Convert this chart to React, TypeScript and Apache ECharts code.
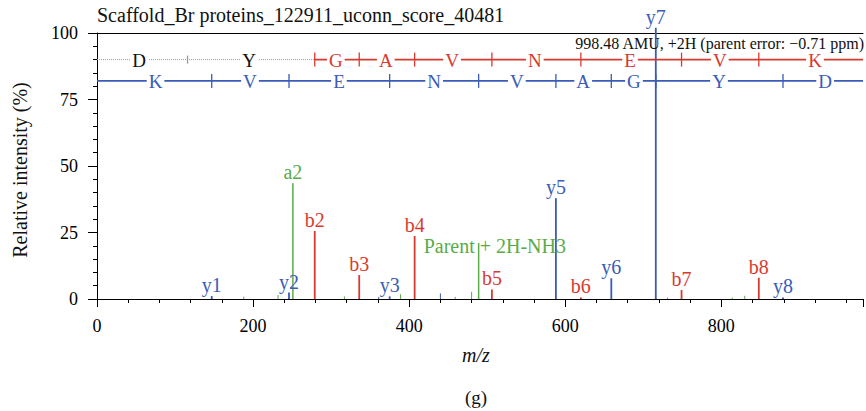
import React, { useEffect, useRef } from "react";
import * as echarts from "echarts";

const TITLE = "Scaffold_Br proteins_122911_uconn_score_40481";
const PARENT_NOTE = "998.48 AMU, +2H (parent error: \u22120.71 ppm)";

// fragment peaks [m/z, relative intensity]
const bIons: number[][] = [[279, 25.6], [336, 9], [407, 23.7], [506, 3.6], [620, 0.6], [749, 3.4], [848, 8]];
const bLabels = ["b2", "b3", "b4", "b5", "b6", "b7", "b8"];
const yIons: number[][] = [[147, 1.1], [246, 2.4], [375, 1], [588, 37.9], [659, 7.8], [716, 102], [879, 0.6]];
const yLabels = ["y1", "y2", "y3", "y5", "y6", "y7", "y8"];
const otherIons: number[][] = [[251, 43.5], [489, 21]];
const otherLabels = ["a2", "Parent + 2H-NH3"];
const minorGreen: number[][] = [[188, 0.9], [232, 1.5], [317, 1], [389, 1.8], [459, 0.8], [480, 2.7], [731, 0.5], [814, 0.5], [830, 1.2]];
const minorBlue: number[][] = [[361, 0.8], [440, 2.1]];

// sequence ladders
const bLevel = 90;
const yLevel = 82;
const grayTicks = [116];
const bTicks = [279, 336, 407, 506, 620, 749, 848];
const yTicks = [147, 246, 375, 489, 588, 659, 716, 879];
const bLetterPos = [54, 195, 306, 370, 455, 561, 683, 798, 920];
const bLetters = ["D", "Y", "G", "A", "V", "N", "E", "V", "K"];
const yLetterPos = [75, 196, 310, 432, 538, 623, 688, 797, 933];
const yLetters = ["K", "V", "E", "N", "V", "A", "G", "Y", "D"];

const X_MAX = 981.5;
const RED = "#d93a2f";
const BLUE = "#3a5cb8";
const GREEN = "#5aab48";
const FONT = "Liberation Serif, Times New Roman, serif";

function peakSeries(data: number[][], labels: string[] | null, color: string, width: number) {
  return {
    type: "custom",
    silent: true,
    clip: false,
    data,
    renderItem: (params: any, api: any) => {
      const x = api.value(0);
      const y = api.value(1);
      const top = api.coord([x, y]);
      const base = api.coord([x, 0]);
      const children: any[] = [
        { type: "line", shape: { x1: top[0], y1: base[1], x2: top[0], y2: top[1] }, style: { stroke: color, lineWidth: width } },
      ];
      const label = labels ? labels[params.dataIndex] : null;
      if (label) {
        const isParent = label.startsWith("Parent");
        children.push({
          type: "text",
          x: isParent ? top[0] - 55 : top[0],
          y: isParent ? top[1] + 3 : top[1] - 1,
          z2: 10,
          style: {
            text: label,
            fill: color,
            fontFamily: FONT,
            fontSize: 20,
            align: isParent ? "left" : "center",
            verticalAlign: isParent ? "middle" : "bottom",
          },
        });
      }
      return { type: "group", children };
    },
  };
}

function tickSeries(xs: number[], level: number, color: string, half: number) {
  return {
    type: "custom",
    silent: true,
    clip: false,
    data: xs.map((x) => [x, level]),
    renderItem: (_p: any, api: any) => {
      const c = api.coord([api.value(0), api.value(1)]);
      return { type: "line", shape: { x1: c[0], y1: c[1] - half, x2: c[0], y2: c[1] + half }, style: { stroke: color, lineWidth: 1.3 } };
    },
  };
}

function letterSeries(xs: number[], letters: string[], level: number, colorFn: (i: number) => string) {
  return {
    type: "custom",
    silent: true,
    clip: false,
    z: 5,
    data: xs.map((x) => [x, level]),
    renderItem: (p: any, api: any) => {
      const c = api.coord([api.value(0), api.value(1)]);
      return {
        type: "text",
        x: c[0],
        y: c[1] + 1,
        style: {
          text: letters[p.dataIndex],
          fill: colorFn(p.dataIndex),
          fontFamily: FONT,
          fontSize: 19,
          align: "center",
          verticalAlign: "middle",
          backgroundColor: "#ffffff",
          padding: [0, 2],
        },
      };
    },
  };
}

export default function App() {
  const ref = useRef<HTMLDivElement>(null);
  useEffect(() => {
    if (!ref.current) return;
    const chart = echarts.init(ref.current, null, { renderer: "svg" });
    chart.setOption({
      animation: false,
      backgroundColor: "#ffffff",
      textStyle: { fontFamily: FONT },
      grid: { left: 97, top: 33, right: 0, bottom: 112 },
      xAxis: [
        {
          type: "value",
          min: 0,
          max: X_MAX,
          interval: 200,
          axisLine: { show: true, lineStyle: { color: "#000", width: 1 } },
          axisTick: { show: true, length: 8, lineStyle: { color: "#000" } },
          minorTick: { show: true, splitNumber: 5, length: 4, lineStyle: { color: "#000" } },
          splitLine: { show: false },
          axisLabel: {
            color: "#000",
            fontFamily: FONT,
            fontSize: 18,
            margin: 18,
            formatter: (v: number) => (v > 900 ? "" : String(v)),
          },
        },
        {
          type: "value",
          position: "top",
          min: 0,
          max: X_MAX,
          axisLine: { show: true, lineStyle: { color: "#000", width: 1 } },
          axisTick: { show: false },
          axisLabel: { show: false },
          splitLine: { show: false },
        },
      ],
      yAxis: {
        type: "value",
        min: 0,
        max: 100,
        interval: 25,
        axisLine: { show: true, lineStyle: { color: "#000", width: 1 } },
        axisTick: { show: true, length: 9, lineStyle: { color: "#000" } },
        minorTick: { show: true, splitNumber: 5, length: 4, lineStyle: { color: "#000" } },
        splitLine: { show: false },
        axisLabel: { color: "#000", fontFamily: FONT, fontSize: 18, margin: 19 },
      },
      series: [
        {
          type: "line",
          silent: true,
          symbol: "none",
          data: [[0, bLevel], [bTicks[0], bLevel]],
          lineStyle: { color: "#9a9a9a", width: 1, type: "dotted" },
        },
        {
          type: "line",
          silent: true,
          symbol: "none",
          data: [[bTicks[0], bLevel], [X_MAX, bLevel]],
          lineStyle: { color: RED, width: 1.8 },
        },
        {
          type: "line",
          silent: true,
          symbol: "none",
          data: [[0, yLevel], [X_MAX, yLevel]],
          lineStyle: { color: BLUE, width: 1.8 },
        },
        tickSeries(grayTicks, bLevel, "#9a9a9a", 4),
        tickSeries(bTicks, bLevel, RED, 7),
        tickSeries(yTicks, yLevel, BLUE, 7),
        letterSeries(bLetterPos, bLetters, bLevel, (i) => (i < 2 ? "#111" : RED)),
        letterSeries(yLetterPos, yLetters, yLevel, () => BLUE),
        peakSeries(minorGreen, null, GREEN, 1),
        peakSeries(minorBlue, null, BLUE, 1),
        peakSeries(otherIons, otherLabels, GREEN, 1.5),
        peakSeries(bIons, bLabels, RED, 1.8),
        peakSeries(yIons, yLabels, BLUE, 1.8),
      ],
      graphic: [
        { type: "text", x: 97, y: 15, style: { text: TITLE, fill: "#111", fontFamily: FONT, fontSize: 20, verticalAlign: "middle" } },
        { type: "text", x: 864, y: 43, z: 20, style: { text: PARENT_NOTE, fill: "#111", fontFamily: FONT, fontSize: 16, align: "right", verticalAlign: "middle" } },
        {
          type: "text",
          x: 20,
          y: 170,
          rotation: Math.PI / 2,
          style: { text: "Relative intensity (%)", fill: "#111", fontFamily: FONT, fontSize: 20, align: "center", verticalAlign: "middle" },
        },
        { type: "text", x: 476, y: 355, style: { text: "m/z", fill: "#111", fontFamily: FONT, fontSize: 20, fontStyle: "italic", align: "center", verticalAlign: "middle" } },
        { type: "text", x: 476, y: 397, style: { text: "(g)", fill: "#111", fontFamily: FONT, fontSize: 19, align: "center", verticalAlign: "middle" } },
      ],
    });
    return () => chart.dispose();
  }, []);
  return <div ref={ref} style={{ position: "absolute", left: 0, top: 0, width: 866, height: 411 }} />;
}
